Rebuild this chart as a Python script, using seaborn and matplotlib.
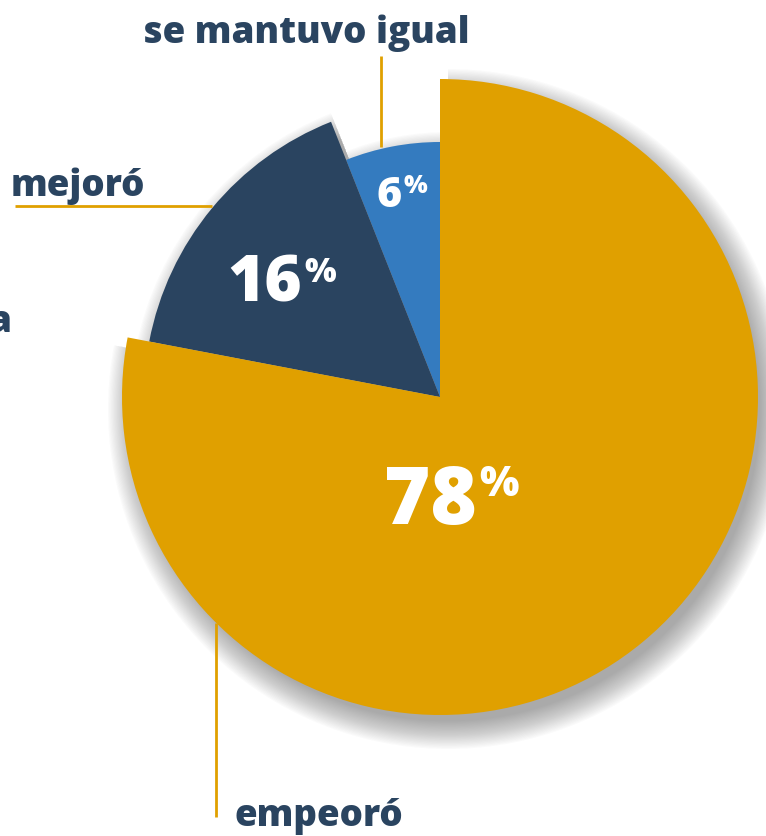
import matplotlib
matplotlib.use("Agg")
import matplotlib.pyplot as plt
import seaborn as sns

# data
categories = ["se mantuvo igual", "mejoró", "empeoró"]
values = [6, 16, 78]
slice_radius = [255, 296, 318]
colors = ["#347BBF", "#2A4460", "#E0A000"]

sns.set_theme(style="white")
plt.rcParams["font.family"] = ["Open Sans", "DejaVu Sans"]

navy = "#2A4460"
gold = "#E0A000"

fig = plt.figure(figsize=(7.66, 8.37), dpi=100)
ax = fig.add_axes([0, 0, 1, 1])

H = 837
cx, cy = 440, H - 398

# soft drop shadow (stacked translucent copies)
for k in range(24):
    sh, _ = ax.pie(values, startangle=90, counterclock=True, center=(cx + 8, cy - 12),
                   radius=1, colors=["#505050"] * 3,
                   wedgeprops=dict(alpha=0.022, linewidth=0))
    for w, r in zip(sh, slice_radius):
        w.set_radius(r + 22 - k * 1.2)

wedges, _ = ax.pie(values, startangle=90, counterclock=True, center=(cx, cy),
                   radius=1, colors=colors, wedgeprops=dict(linewidth=0))
for w, r in zip(wedges, slice_radius):
    w.set_radius(r)

ax.set_xlim(0, 766)
ax.set_ylim(0, H)
ax.set_aspect("equal")
ax.axis("off")

# percentage labels
def pct(x, y, num, size, psize, dy):
    ax.text(x, H - y, str(num), color="white", fontsize=size, fontweight=800,
            ha="right", va="baseline")
    ax.text(x + 2, H - y + dy, "%", color="white", fontsize=psize, fontweight=800,
            ha="left", va="baseline")

pct(402, 207, values[0], 31, 18, 14)
pct(302, 302, values[1], 46, 24, 20)
pct(477, 524, values[2], 57, 30, 28)

# leader lines
ax.plot([381, 381], [H - 57, H - 148], color=gold, lw=2, solid_capstyle="butt")
ax.plot([15, 212], [H - 207, H - 207], color=gold, lw=2, solid_capstyle="butt")
ax.plot([216, 216], [H - 624, H - 818], color=gold, lw=2, solid_capstyle="butt")

# category labels
lab = dict(color=navy, fontsize=26.5, fontweight=800, va="baseline")
ax.text(306, H - 43, categories[0], ha="center", **lab)
ax.text(11, H - 196, categories[1], ha="left", **lab)
ax.text(234, H - 826, categories[2], ha="left", **lab)
ax.text(12, H - 332, "a", ha="right", **lab)

fig.savefig("out.png", dpi=100)
